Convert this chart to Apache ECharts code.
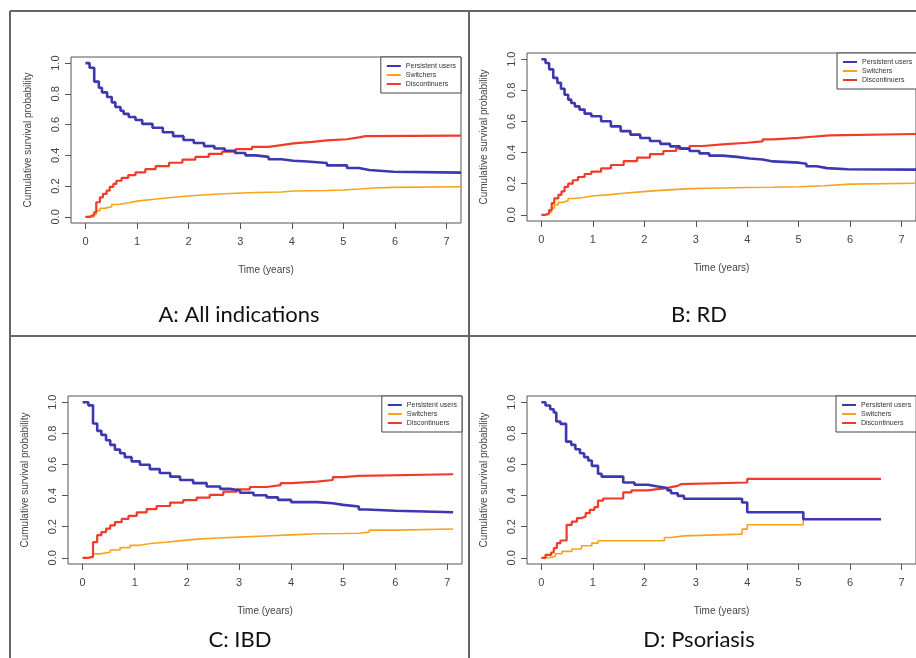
<!DOCTYPE html>
<html>
<head>
<meta charset="utf-8">
<script src="https://cdn.jsdelivr.net/npm/echarts@6/dist/echarts.min.js"></script>
<style>
  html, body { margin: 0; padding: 0; background: #fff; }
  #chart { width: 916px; height: 658px; }
</style>
</head>
<body>
<div id="chart"></div>
<script>
const xTicks = [0, 1, 2, 3, 4, 5, 6, 7];
const yTicks = [0, 0.2, 0.4, 0.6, 0.8, 1.0];
const seriesNames = ["Persistent users", "Switchers", "Discontinuers"];
const panelTitles = ["A: All indications", "B: RD", "C: IBD", "D: Psoriasis"];
const xTitle = "Time (years)";
const yTitle = "Cumulative survival probability";

// A: All indications
const aPersistent = [[0,1],[0.08,0.97],[0.17,0.88],[0.26,0.84],[0.32,0.81],[0.42,0.78],[0.51,0.745],[0.58,0.715],[0.68,0.69],[0.74,0.67],[0.84,0.65],[0.97,0.63],[1.1,0.605],[1.3,0.58],[1.5,0.55],[1.7,0.525],[1.9,0.5],[2.1,0.48],[2.3,0.46],[2.5,0.445],[2.7,0.43],[2.9,0.415],[3.1,0.4],[3.3,0.39],[3.55,0.375],[3.8,0.365],[4.03,0.36],[4.3,0.35],[4.68,0.335],[5.07,0.318],[5.3,0.305],[5.5,0.293],[5.97,0.288],[7.28,0.288]];
const aSwitchers = [[0,0],[0.17,0.015],[0.21,0.04],[0.28,0.055],[0.37,0.066],[0.51,0.08],[0.64,0.092],[0.84,0.104],[1.03,0.113],[1.29,0.124],[1.62,0.134],[1.94,0.142],[2.27,0.149],[2.59,0.154],[2.91,0.158],[3.3,0.162],[3.8,0.168],[4.03,0.171],[4.68,0.175],[5.0,0.181],[5.3,0.188],[5.6,0.192],[5.97,0.196],[7.28,0.196]];
const aDiscontinuers = [[0,0],[0.08,0.013],[0.17,0.03],[0.21,0.095],[0.28,0.127],[0.34,0.149],[0.41,0.17],[0.47,0.195],[0.54,0.214],[0.6,0.235],[0.7,0.253],[0.83,0.272],[0.97,0.29],[1.16,0.31],[1.36,0.33],[1.62,0.352],[1.88,0.372],[2.13,0.39],[2.39,0.41],[2.65,0.425],[2.91,0.44],[3.23,0.455],[3.55,0.467],[3.8,0.478],[4.03,0.488],[4.4,0.498],[4.68,0.505],[5.07,0.517],[5.3,0.525],[5.43,0.528],[7.28,0.528]];

// B: RD
const bPersistent = [[0,1],[0.08,0.976],[0.15,0.935],[0.23,0.88],[0.31,0.848],[0.38,0.81],[0.45,0.772],[0.52,0.74],[0.58,0.719],[0.65,0.697],[0.74,0.676],[0.84,0.65],[0.97,0.633],[1.16,0.601],[1.35,0.568],[1.54,0.538],[1.73,0.515],[1.92,0.494],[2.11,0.474],[2.31,0.456],[2.5,0.44],[2.69,0.425],[2.88,0.41],[3.07,0.395],[3.26,0.38],[3.52,0.372],[3.8,0.362],[4.05,0.355],[4.3,0.343],[4.5,0.335],[5.0,0.328],[5.15,0.312],[5.35,0.3],[5.55,0.293],[5.95,0.29],[7.4,0.29]];
const bSwitchers = [[0,0],[0.15,0.017],[0.2,0.043],[0.25,0.065],[0.33,0.08],[0.43,0.092],[0.52,0.105],[0.65,0.113],[0.84,0.122],[1.03,0.128],[1.29,0.138],[1.6,0.147],[1.92,0.155],[2.24,0.162],[2.56,0.168],[2.88,0.172],[3.5,0.175],[4.0,0.177],[4.5,0.18],[5.0,0.187],[5.5,0.197],[6.0,0.203],[7.4,0.203]];
const bDiscontinuers = [[0,0],[0.08,0.01],[0.15,0.03],[0.2,0.075],[0.25,0.105],[0.33,0.128],[0.39,0.15],[0.45,0.18],[0.52,0.2],[0.61,0.222],[0.71,0.243],[0.84,0.262],[0.97,0.278],[1.16,0.298],[1.35,0.32],[1.6,0.345],[1.86,0.368],[2.11,0.39],[2.37,0.41],[2.62,0.427],[2.88,0.442],[3.14,0.452],[3.52,0.463],[4.0,0.472],[4.3,0.485],[4.5,0.494],[5.0,0.5],[5.2,0.51],[5.6,0.52],[7.4,0.52]];

// C: IBD
const cPersistent = [[0,1],[0.11,0.98],[0.2,0.863],[0.28,0.816],[0.36,0.79],[0.45,0.756],[0.53,0.726],[0.62,0.695],[0.72,0.672],[0.81,0.647],[0.94,0.62],[1.1,0.598],[1.29,0.57],[1.48,0.545],[1.68,0.522],[1.87,0.5],[2.12,0.48],[2.38,0.458],[2.64,0.443],[2.83,0.433],[3.02,0.418],[3.28,0.402],[3.53,0.388],[3.75,0.372],[4.0,0.358],[4.5,0.351],[4.8,0.34],[5.0,0.33],[5.3,0.31],[5.45,0.302],[6.0,0.293],[7.11,0.293]];
const cSwitchers = [[0,0],[0.11,0.01],[0.2,0.025],[0.33,0.035],[0.53,0.05],[0.72,0.065],[0.91,0.08],[1.1,0.092],[1.3,0.1],[1.6,0.11],[1.9,0.12],[2.2,0.127],[2.6,0.133],[3.0,0.14],[3.5,0.147],[4.0,0.154],[4.5,0.156],[5.0,0.158],[5.3,0.165],[5.5,0.178],[6.0,0.185],[7.11,0.185]];
const cDiscontinuers = [[0,0],[0.11,0.006],[0.2,0.1],[0.28,0.145],[0.36,0.165],[0.45,0.188],[0.53,0.208],[0.62,0.229],[0.75,0.25],[0.88,0.27],[1.04,0.292],[1.23,0.313],[1.42,0.333],[1.68,0.355],[1.93,0.37],[2.19,0.387],[2.44,0.405],[2.7,0.425],[2.96,0.44],[3.21,0.455],[3.53,0.467],[3.8,0.48],[4.0,0.49],[4.5,0.5],[4.8,0.518],[5.0,0.527],[5.3,0.537],[7.11,0.537]];

// D: Psoriasis
const dPersistent = [[0,1],[0.08,0.979],[0.17,0.955],[0.24,0.934],[0.29,0.876],[0.37,0.861],[0.48,0.747],[0.58,0.726],[0.66,0.698],[0.75,0.672],[0.83,0.647],[0.91,0.625],[0.98,0.591],[1.1,0.54],[1.17,0.522],[1.59,0.484],[1.81,0.469],[2.07,0.458],[2.26,0.448],[2.45,0.433],[2.52,0.415],[2.65,0.398],[2.77,0.379],[3.9,0.355],[4.0,0.293],[5.09,0.248],[6.6,0.248]];
const dSwitchers = [[0,0],[0.14,0.009],[0.27,0.026],[0.4,0.041],[0.59,0.056],[0.78,0.077],[0.98,0.094],[1.1,0.109],[2.39,0.13],[2.52,0.141],[2.77,0.152],[3.9,0.184],[4.0,0.212],[5.09,0.248],[6.6,0.248]];
const dDiscontinuers = [[0,0],[0.08,0.019],[0.19,0.034],[0.24,0.062],[0.3,0.094],[0.37,0.111],[0.49,0.212],[0.59,0.233],[0.69,0.255],[0.78,0.266],[0.86,0.287],[0.94,0.308],[1.03,0.325],[1.1,0.368],[1.2,0.381],[1.59,0.42],[1.75,0.433],[2.07,0.441],[2.26,0.448],[2.45,0.454],[2.52,0.462],[2.65,0.473],[2.71,0.484],[4.0,0.507],[6.6,0.507]];

const colors = { persistent: "#3d37b0", switchers: "#f9a21c", discontinuers: "#f03b2b" };

// plot boxes in page pixels, legend placement and title anchor
const panels = [
  { data: [aPersistent, aSwitchers, aDiscontinuers], grid: { left: 71, top: 57, width: 390, height: 166 }, legend: { right: 455, top: 57 }, title: [239, 315] },
  { data: [bPersistent, bSwitchers, bDiscontinuers], grid: { left: 527, top: 53, width: 395, height: 168 }, legend: { left: 837, top: 53 }, title: [699, 315] },
  { data: [cPersistent, cSwitchers, cDiscontinuers], grid: { left: 68, top: 396, width: 394, height: 168 }, legend: { right: 454, top: 396 }, title: [240, 640] },
  { data: [dPersistent, dSwitchers, dDiscontinuers], grid: { left: 527, top: 396, width: 392, height: 168 }, legend: { left: 836, top: 396 }, title: [699, 640] },
];

const axisFont = "Liberation Sans, Arial, sans-serif";
const grids = [], xAxes = [], yAxes = [], legends = [], series = [], graphics = [];

panels.forEach((p, i) => {
  grids.push({ ...p.grid, show: true, borderColor: "#555", borderWidth: 1, backgroundColor: "#fff" });
  xAxes.push({
    type: "value", gridIndex: i, min: -0.28, max: 7.28,
    name: xTitle, nameLocation: "middle", nameGap: 42,
    nameTextStyle: { fontFamily: axisFont, fontSize: 10, color: "#444" },
    axisLine: { show: false, onZero: false },
    axisTick: { show: true, inside: false, length: 6, customValues: xTicks, lineStyle: { color: "#555" } },
    axisLabel: { customValues: xTicks, margin: 13, fontFamily: axisFont, fontSize: 11, color: "#444", formatter: (v) => String(v) },
    splitLine: { show: false },
  });
  yAxes.push({
    type: "value", gridIndex: i, min: -0.04, max: 1.04,
    name: yTitle, nameLocation: "middle", nameGap: 38,
    nameTextStyle: { fontFamily: axisFont, fontSize: 10, color: "#444" },
    axisLine: { show: false, onZero: false },
    axisTick: { show: true, inside: false, length: 6, customValues: yTicks, lineStyle: { color: "#555" } },
    axisLabel: { customValues: yTicks, rotate: 90, margin: 10, fontFamily: axisFont, fontSize: 11, color: "#444", formatter: (v) => v.toFixed(1) },
    splitLine: { show: false },
  });
  legends.push({
    ...p.legend,
    orient: "vertical",
    data: seriesNames.map((n) => ({ name: n, icon: "rect" })),
    itemWidth: 14, itemHeight: 2, itemGap: 1,
    padding: [5, 5, 5, 6],
    borderColor: "#444", borderWidth: 1, backgroundColor: "#fff",
    selectedMode: false,
    textStyle: { fontFamily: axisFont, fontSize: 7, lineHeight: 8, color: "#333" },
  });
  const styles = [
    { name: seriesNames[1], color: colors.switchers, width: 1.6, z: 2 },
    { name: seriesNames[2], color: colors.discontinuers, width: 2.2, z: 3 },
    { name: seriesNames[0], color: colors.persistent, width: 2.6, z: 4 },
  ];
  const order = [1, 2, 0];
  order.forEach((k, j) => {
    const s = styles[j];
    series.push({
      type: "line", name: s.name, xAxisIndex: i, yAxisIndex: i,
      data: p.data[k], step: "end", symbol: "none", showSymbol: false, z: s.z,
      lineStyle: { color: s.color, width: s.width },
      itemStyle: { color: s.color },
      animation: false,
    });
  });
  graphics.push({
    type: "text", x: p.title[0], y: p.title[1],
    style: { text: panelTitles[i], fontFamily: "Lato, Open Sans, sans-serif", fontSize: 22, fill: "#111", align: "center", verticalAlign: "middle" },
  });
});

// panel frame lines
const frameLines = [
  [10, 11, 916, 11],
  [10, 11, 10, 658],
  [469, 11, 469, 658],
  [10, 336, 916, 336],
];
frameLines.forEach((l) => {
  graphics.push({ type: "line", shape: { x1: l[0], y1: l[1], x2: l[2], y2: l[3] }, style: { stroke: "#666", lineWidth: 2 }, z: 10 });
});

const chart = echarts.init(document.getElementById("chart"), null, { renderer: "canvas" });
chart.setOption({
  backgroundColor: "#fff",
  animation: false,
  grid: grids,
  xAxis: xAxes,
  yAxis: yAxes,
  legend: legends,
  series,
  graphic: graphics,
});
</script>
</body>
</html>
